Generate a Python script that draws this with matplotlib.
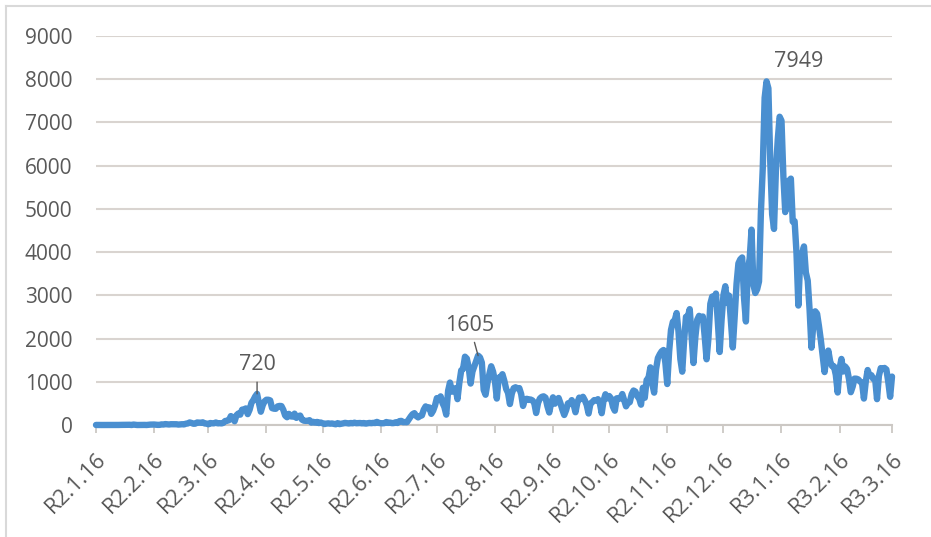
import numpy as np
import pandas as pd
import matplotlib
matplotlib.use("Agg")
import matplotlib.pyplot as plt
from matplotlib.lines import Line2D

plt.rcParams['font.family'] = ['Open Sans', 'DejaVu Sans']

# Daily new cases, one list per month (R2.1.16 - R3.3.16)
jan20 = [1, 0, 0, 0, 0, 0, 0, 1, 1, 0, 1, 2, 1, 3, 3, 3]
feb20 = [1, 3, 5, 0, 10, 4, 0, 1, 0, 4, 2, 0, 4, 9, 9, 11, 6, 3, 4, 14, 11, 21, 16, 12, 18, 17, 14, 17, 10]
mar20 = [14, 18, 14, 30, 36, 59, 47, 29, 31, 58, 54, 52, 62, 36, 33, 17, 45, 40, 39, 58, 38, 42, 37, 50, 93,
         98, 112, 206, 172, 87, 225]
apr20 = [266, 240, 355, 361, 383, 252, 351, 513, 576, 660, 720, 507, 307, 455, 548, 584, 584, 569, 391, 378,
         375, 431, 441, 438, 352, 218, 180, 257, 200, 195]
may20 = [263, 165, 203, 218, 124, 100, 96, 98, 111, 55, 73, 54, 71, 45, 57, 40, 23, 32, 38, 31, 35, 26, 17, 43,
         21, 29, 38, 49, 43, 35, 46]
jun20 = [39, 53, 41, 44, 46, 38, 46, 32, 41, 48, 42, 49, 46, 72, 49, 42, 40, 44, 69, 49, 56, 43, 45, 63, 47,
         89, 95, 65, 67, 64]
jul20 = [128, 194, 249, 274, 208, 176, 208, 222, 355, 430, 391, 407, 258, 330, 451, 622, 595, 662, 509, 416,
         240, 792, 982, 770, 836, 852, 598, 977, 1264, 1301, 1580]
aug20 = [1536, 1331, 959, 1236, 1357, 1485, 1605, 1566, 1445, 811, 700, 971, 1173, 1359, 1234, 1019, 612, 1095,
         1106, 1175, 1025, 833, 742, 485, 725, 852, 873, 848, 854, 717, 441]
sep20 = [593, 606, 580, 590, 569, 512, 278, 509, 613, 651, 663, 632, 436, 289, 509, 640, 493, 580, 625, 500,
         355, 232, 343, 502, 487, 575, 475, 295, 517, 633]
oct20 = [601, 652, 571, 463, 265, 498, 531, 576, 571, 597, 507, 273, 566, 711, 615, 670, 614, 423, 331, 617,
         622, 612, 716, 577, 432, 512, 528, 713, 798, 772, 668]
nov20 = [613, 470, 862, 630, 1040, 1089, 1333, 952, 749, 1283, 1548, 1636, 1704, 1735, 1437, 948, 1692, 2199,
         2386, 2424, 2590, 2166, 1526, 1234, 1950, 2503, 2506, 2680, 2067, 1434]
dec20 = [2031, 2434, 2525, 2441, 2510, 2046, 1521, 2014, 2803, 2972, 2814, 3041, 2387, 1689, 2426, 3002, 3211,
         2824, 2993, 2401, 1794, 2504, 3267, 3740, 3833, 3876, 2935, 2395, 3596, 3850, 4520]
jan21 = [3243, 3054, 3140, 3322, 4916, 5946, 7570, 7949, 7790, 6094, 4875, 4536, 5871, 6604, 7132, 7040, 5759,
         4926, 5321, 5651, 5700, 4706, 4715, 3990, 2764, 3852, 3961, 4131, 3530, 3343, 2668]
feb21 = [1789, 2323, 2630, 2575, 2287, 1966, 1605, 1225, 1567, 1722, 1468, 1361, 1357, 1159, 752, 1307, 1528,
         1238, 1353, 1296, 1071, 759, 888, 1073, 1071, 1054, 1001, 982]
mar21 = [612, 1005, 1272, 1144, 1152, 1066, 1068, 598, 1137, 1316, 1293, 1320, 1284, 1002, 652, 1120]

tick_labels = ["R2.1.16", "R2.2.16", "R2.3.16", "R2.4.16", "R2.5.16", "R2.6.16", "R2.7.16", "R2.8.16",
               "R2.9.16", "R2.10.16", "R2.11.16", "R2.12.16", "R3.1.16", "R3.2.16", "R3.3.16"]
peak_days = ["2020-04-11", "2020-08-07", "2021-01-08"]

dates = pd.date_range("2020-01-16", "2021-03-16", freq="D")
cases = pd.Series(np.concatenate([jan20, feb20, mar20, apr20, may20, jun20, jul20, aug20, sep20,
                                  oct20, nov20, dec20, jan21, feb21, mar21]), index=dates)
tick_dates = pd.date_range("2020-01-16", "2021-03-16", freq=pd.DateOffset(months=1))

text_col = "#595959"
fig = plt.figure(figsize=(9.31, 5.37), dpi=100)
ax = fig.add_axes([96 / 931, 1 - 425 / 537, (892 - 96) / 931, (425 - 36) / 537])

ax.plot(cases.index, cases.values, color="#4a8fd0", lw=4.6, solid_joinstyle="round",
        solid_capstyle="round", clip_on=False, zorder=3)

ax.set_ylim(0, 9000)
ax.set_yticks(np.arange(0, 9001, 1000))
ax.set_xlim(dates[0], dates[-1])
ax.set_xticks(tick_dates)
ax.set_xticklabels(tick_labels, rotation=45, ha="right", rotation_mode="anchor")

ax.grid(axis="y", color="#d9d4d0", lw=1.5)
ax.set_axisbelow(True)
for side in ["top", "right", "left"]:
    ax.spines[side].set_visible(False)
ax.spines["bottom"].set_color("#ccc8c4")
ax.spines["bottom"].set_linewidth(1.5)
ax.tick_params(axis="y", length=0, pad=17, labelsize=15, labelcolor=text_col)
ax.tick_params(axis="x", length=6, width=1.3, color="#ccc8c4", pad=11, labelsize=16, labelcolor=text_col)

# peak labels
offsets = [(0, 21), (-6, 22), (23, 14)]
leaders = [True, True, False]
for day, off, lead in zip(peak_days, offsets, leaders):
    d = pd.Timestamp(day)
    v = cases[d]
    arrow = dict(arrowstyle="-", color=text_col, lw=1, shrinkA=3, shrinkB=0) if lead else None
    ax.annotate(f"{v}", xy=(d, v), xytext=off, textcoords="offset points", ha="center", va="center",
                fontsize=15.5, color=text_col, arrowprops=arrow, zorder=4)

# chart frame
fig.add_artist(Line2D([6 / 931, 1], [1 - 6 / 537] * 2, transform=fig.transFigure, color="#d9d9d9", lw=1.5))
fig.add_artist(Line2D([6 / 931] * 2, [0, 1 - 6 / 537], transform=fig.transFigure, color="#d9d9d9", lw=1.5))

fig.savefig("out.png", dpi=100)
